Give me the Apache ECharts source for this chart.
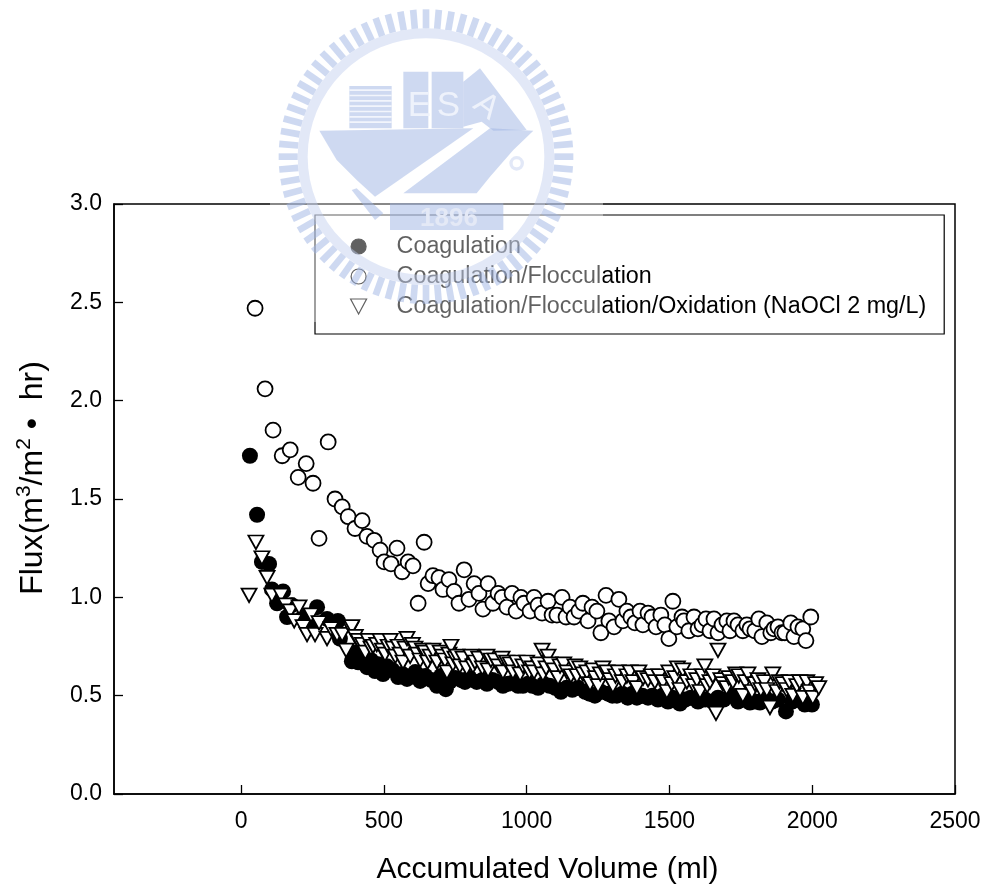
<!DOCTYPE html>
<html>
<head>
<meta charset="utf-8">
<style>html,body{margin:0;padding:0;background:#fff}#c{width:986px;height:890px}</style>
<script src="https://cdn.jsdelivr.net/npm/echarts@6/dist/echarts.min.js"></script>
</head>
<body>
<div id="c"></div>
<script>
const xTicks = [0, 500, 1000, 1500, 2000, 2500];
const yTicks = [0, 0.5, 1, 1.5, 2, 2.5, 3];
const seriesNames = ['Coagulation', 'Coagulation/Flocculation', 'Coagulation/Flocculation/Oxidation (NaOCl 2 mg/L)'];

const coagVolume = [31,56,73,98,108,126,147,161,178,217,241,266,301,339,346,388,400,410,425,441,455,469,480,497,510,530,550,565,581,600,610,627,645,665,686,700,717,730,750,770,784,800,825,845,861,880,900,917,935,955,970,987,1005,1020,1040,1060,1080,1100,1120,1140,1160,1180,1205,1220,1239,1260,1285,1300,1316,1335,1354,1370,1386,1405,1425,1440,1460,1475,1495,1510,1520,1537,1555,1575,1600,1625,1652,1670,1690,1715,1740,1760,1782,1800,1817,1835,1860,1880,1908,1930,1950,1974,1990,1999];
const coagFlux = [1.72,1.42,1.18,1.17,1.04,0.97,1.03,0.90,0.96,0.90,0.85,0.95,0.89,0.88,0.79,0.675,0.72,0.67,0.70,0.645,0.68,0.625,0.66,0.61,0.65,0.63,0.595,0.61,0.585,0.60,0.62,0.575,0.60,0.58,0.55,0.60,0.533,0.57,0.59,0.58,0.57,0.59,0.57,0.58,0.56,0.58,0.57,0.55,0.56,0.57,0.55,0.55,0.56,0.55,0.54,0.56,0.55,0.54,0.52,0.54,0.53,0.54,0.52,0.51,0.50,0.52,0.51,0.50,0.50,0.51,0.49,0.51,0.49,0.50,0.49,0.50,0.48,0.50,0.47,0.49,0.475,0.46,0.48,0.49,0.47,0.48,0.47,0.49,0.48,0.50,0.47,0.48,0.465,0.47,0.465,0.49,0.47,0.48,0.42,0.47,0.48,0.455,0.47,0.455];

const flocVolume = [49,84,112,144,172,200,228,252,273,305,329,354,375,399,424,441,466,487,501,525,546,564,585,602,620,641,655,672,693,707,728,746,763,781,798,816,833,847,865,882,900,914,931,949,963,980,991,1012,1026,1040,1054,1075,1089,1106,1124,1138,1152,1166,1183,1197,1215,1229,1246,1260,1278,1288,1306,1323,1337,1351,1365,1379,1397,1407,1425,1439,1453,1470,1484,1498,1512,1526,1544,1551,1568,1586,1600,1614,1628,1642,1656,1670,1684,1701,1712,1726,1740,1757,1771,1782,1799,1813,1824,1841,1855,1866,1880,1894,1904,1925,1936,1950,1967,1978,1995];
const flocFlux = [2.47,2.06,1.85,1.72,1.75,1.61,1.68,1.58,1.30,1.79,1.50,1.46,1.41,1.35,1.39,1.31,1.29,1.24,1.18,1.17,1.25,1.13,1.18,1.16,0.97,1.28,1.07,1.11,1.10,1.04,1.09,1.03,0.97,1.14,0.99,1.07,1.02,0.94,1.07,0.97,1.02,1.00,0.95,1.02,0.93,1.00,0.97,0.93,1.00,0.96,0.92,0.98,0.91,0.91,1.00,0.90,0.95,0.90,0.93,0.97,0.88,0.95,0.93,0.82,1.01,0.88,0.85,0.99,0.88,0.93,0.90,0.87,0.93,0.86,0.92,0.90,0.85,0.91,0.86,0.79,0.98,0.85,0.90,0.88,0.83,0.90,0.84,0.86,0.89,0.83,0.89,0.82,0.86,0.88,0.83,0.88,0.86,0.83,0.86,0.84,0.83,0.89,0.80,0.87,0.82,0.84,0.85,0.82,0.82,0.87,0.80,0.85,0.84,0.78,0.90];

const oxidVolume = [28,52,73,91,108,140,157,172,186,203,217,231,245,259,273,301,315,336,354,368,385,388,400,410,425,435,445,455,462,475,487,495,504,515,522,532,540,550,557,567,574,581,592,600,609,618,627,635,644,653,662,672,686,697,705,714,721,728,735,742,749,756,766,777,790,805,812,819,832,845,861,865,875,889,900,914,917,930,942,952,965,977,987,1000,1010,1019,1026,1040,1054,1057,1068,1075,1082,1096,1110,1117,1130,1141,1155,1169,1176,1186,1197,1211,1222,1232,1241,1250,1258,1267,1281,1292,1302,1311,1320,1335,1351,1362,1372,1386,1393,1408,1425,1437,1449,1463,1477,1491,1498,1508,1519,1528,1537,1547,1561,1575,1585,1596,1607,1615,1624,1632,1642,1652,1663,1670,1680,1687,1700,1708,1722,1732,1743,1757,1766,1775,1789,1799,1810,1820,1832,1841,1852,1862,1876,1885,1897,1910,1920,1932,1946,1956,1967,1981,1990,2002,2012,2023];
const oxidFlux = [1.01,1.28,1.20,1.10,1.01,1.01,0.96,0.93,0.88,0.95,0.85,0.81,0.91,0.81,0.87,0.79,0.84,0.81,0.81,0.73,0.84,0.85,0.80,0.78,0.76,0.72,0.78,0.74,0.75,0.76,0.78,0.73,0.71,0.75,0.78,0.74,0.70,0.75,0.71,0.67,0.74,0.79,0.70,0.76,0.74,0.71,0.68,0.73,0.72,0.67,0.70,0.73,0.67,0.72,0.70,0.68,0.62,0.71,0.75,0.66,0.69,0.70,0.65,0.69,0.64,0.70,0.65,0.67,0.69,0.64,0.70,0.63,0.68,0.68,0.65,0.69,0.62,0.67,0.66,0.62,0.67,0.61,0.65,0.67,0.62,0.64,0.62,0.66,0.73,0.61,0.64,0.70,0.66,0.63,0.59,0.65,0.66,0.62,0.60,0.65,0.60,0.64,0.61,0.62,0.56,0.63,0.59,0.55,0.61,0.64,0.62,0.58,0.55,0.60,0.62,0.57,0.60,0.62,0.57,0.54,0.62,0.59,0.58,0.60,0.57,0.60,0.57,0.52,0.62,0.56,0.59,0.64,0.53,0.63,0.57,0.60,0.55,0.58,0.52,0.60,0.65,0.55,0.57,0.60,0.41,0.73,0.58,0.56,0.54,0.59,0.57,0.61,0.60,0.50,0.57,0.61,0.52,0.56,0.58,0.53,0.57,0.53,0.44,0.61,0.52,0.57,0.56,0.53,0.57,0.50,0.55,0.57,0.49,0.57,0.52,0.49,0.56,0.54];

const pairs = (xs, ys) => xs.map((x, i) => [x, ys[i]]);
const FONT = '"Liberation Sans", Arial, sans-serif';
const triangleDown = 'path://M0 0L16 0L8 15Z';

// Watermark, drawn in crop units scaled down by 3 from the page origin offset
const logoFill = 'rgba(158,179,228,0.5)';
const logoPale = 'rgba(190,205,238,0.45)';
const logoEls = [];
for (let i = 0; i < 72; i++) {
  const a = i / 72 * Math.PI * 2;
  logoEls.push({type:'line', z:60, shape:{x1:498+385*Math.cos(a), y1:470+385*Math.sin(a), x2:498+442*Math.cos(a), y2:470+442*Math.sin(a)}, style:{stroke:logoFill, lineWidth:20}});
}
logoEls.push(
  {type:'ring', z:60, shape:{cx:498,cy:470,r:385,r0:355}, style:{fill:logoPale}},
  {type:'rect', z:60, shape:{x:268,y:258,width:127,height:127}, style:{fill:logoFill}},
  {type:'rect', z:60, shape:{x:430,y:215,width:75,height:170}, style:{fill:logoFill}},
  {type:'rect', z:60, shape:{x:515,y:215,width:95,height:170}, style:{fill:logoFill}},
  {type:'polygon', z:60, shape:{points:[[610,245],[660,205],[800,390],[700,392],[665,365],[610,380]]}, style:{fill:logoFill}},
  {type:'polygon', z:60, shape:{points:[[178,392],[640,385],[345,590],[290,540],[230,480]]}, style:{fill:logoFill}},
  {type:'polygon', z:60, shape:{points:[[690,385],[820,392],[760,450],[690,530],[650,580],[430,580]]}, style:{fill:logoFill}},
  {type:'polygon', z:60, shape:{points:[[275,570],[290,565],[370,640],[345,660]]}, style:{fill:logoFill}},
  {type:'rect', z:60, shape:{x:390,y:610,width:340,height:80}, style:{fill:logoFill}},
  {type:'ring', z:60, shape:{cx:770,cy:490,r:22,r0:12}, style:{fill:logoPale}},
  {type:'text', z:61, style:{text:'E', x:443, y:268, fill:'#eef2fb', font:'105px '+FONT}},
  {type:'text', z:61, style:{text:'S', x:530, y:268, fill:'#eef2fb', font:'105px '+FONT}},
  {type:'text', z:61, rotation:-0.65, originX:680, originY:320, style:{text:'A', x:645, y:270, fill:'#eef2fb', font:'100px '+FONT}},
  {type:'text', z:61, style:{text:'1896', x:480, y:618, fill:'#e4e9f6', font:'bold 78px '+FONT}}
);
for (let k = 0; k < 7; k++) {
  logoEls.push({type:'rect', z:61, shape:{x:268,y:268+k*16,width:127,height:5}, style:{fill:'#f2f5fc'}});
}

const option = {
  animation: false,
  backgroundColor: '#fff',
  textStyle: {fontFamily: FONT},
  grid: {left:114, right:31, top:204, bottom:95, show:true, borderColor:'#000', borderWidth:1.5, backgroundColor:'transparent'},
  xAxis: {
    type:'value', min:-445, max:2500, splitLine:{show:false},
    name:'Accumulated Volume (ml)', nameLocation:'middle', nameGap:61,
    nameTextStyle:{fontSize:30, color:'#000', fontFamily:FONT, padding:[0,0,0,26]},
    axisLine:{onZero:false, lineStyle:{color:'#000', width:1.5}},
    axisTick:{show:true, inside:true, length:9, customValues:xTicks, lineStyle:{color:'#000', width:1.3}},
    axisLabel:{customValues:xTicks, fontSize:23, color:'#000', margin:16, fontFamily:FONT, hideOverlap:false, formatter:v=>String(v)}
  },
  yAxis: {
    type:'value', min:0, max:3, splitLine:{show:false},
    name:'{a|Flux(m}{s|3}{a|/m}{s|2}{a| \u2022  hr)}', nameLocation:'middle', nameGap:62, nameRotate:90,
    nameTextStyle:{color:'#000', fontFamily:FONT, padding:[0,0,0,42], rich:{
      a:{fontSize:32, color:'#000', fontFamily:FONT, lineHeight:38},
      s:{fontSize:21, color:'#000', fontFamily:FONT, verticalAlign:'top', lineHeight:21}
    }},
    axisLine:{onZero:false, lineStyle:{color:'#000', width:1.5}},
    axisTick:{show:true, inside:true, length:9, customValues:yTicks, lineStyle:{color:'#000', width:1.3}},
    axisLabel:{customValues:yTicks, fontSize:23, color:'#000', margin:12, fontFamily:FONT, formatter:v=>v.toFixed(1)}
  },
  legend: {
    left:315, top:215, orient:'vertical', padding:[20,18,16,35], itemGap:7,
    itemWidth:66, itemHeight:15, symbolKeepAspect:true,
    borderColor:'#000', borderWidth:1.2, backgroundColor:'transparent',
    textStyle:{fontSize:23.3, color:'#000', fontFamily:FONT},
    itemStyle:{borderWidth:1.2},
    data:seriesNames
  },
  graphic: [
    {type:'rect', z:55, silent:true, shape:{x:270,y:0,width:333,height:322}, style:{fill:'rgba(255,255,255,0.38)'}},
    {type:'group', silent:true, x:260, y:0, scaleX:1/3, scaleY:1/3, children:logoEls}
  ],
  series: [
    {name:seriesNames[0], type:'scatter', z:2, symbol:'circle', symbolSize:16, data:pairs(coagVolume, coagFlux), itemStyle:{color:'#000', borderColor:'#000', borderWidth:0, opacity:1}},
    {name:seriesNames[1], type:'scatter', z:3, symbol:'circle', symbolSize:15, data:pairs(flocVolume, flocFlux), itemStyle:{color:'#fff', borderColor:'#000', borderWidth:1.8, opacity:1}},
    {name:seriesNames[2], type:'scatter', z:4, symbol:triangleDown, symbolSize:[15,13.5], data:pairs(oxidVolume, oxidFlux), itemStyle:{color:'#fff', borderColor:'#000', borderWidth:1.8, opacity:1}}
  ]
};
echarts.init(document.getElementById('c'), null, {renderer:'canvas'}).setOption(option);
</script>
</body>
</html>
